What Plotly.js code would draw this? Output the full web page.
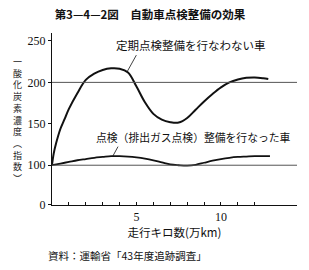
<!DOCTYPE html>
<html>
<head>
<meta charset="utf-8">
<script src="https://cdn.plot.ly/plotly-3.0.1.min.js"></script>
<style>html,body{margin:0;padding:0;background:#fff;}#chart{width:309px;height:270px;}</style>
</head>
<body>
<div id="chart"></div>
<script>
// 走行キロ数 (万km)
const xNoService = [0, 0.1, 0.25, 0.5, 0.75, 1.0, 1.5, 2.0, 2.5, 3.0, 3.5, 4.0, 4.5, 5.0, 5.5, 6.0, 6.5, 7.0, 7.5, 8.0, 8.5, 9.0, 9.5, 10.0, 10.5, 11.0, 11.5, 12.0, 12.5, 12.8];
// 定期点検整備を行なわない車 (一酸化炭素濃度指数)
const yNoService = [100, 114, 127, 144, 156, 168, 187, 203, 210.5, 215, 217, 216.5, 212, 195, 176, 162, 155, 152, 151.5, 157, 167, 177, 186, 194, 200, 203.5, 205.5, 206, 205, 204];
const xService = [0, 0.5, 1, 1.5, 2, 2.5, 3, 3.5, 4, 4.5, 5, 5.5, 6, 6.5, 7, 7.5, 8, 8.5, 9, 9.5, 10, 10.5, 11, 11.5, 12, 12.9];
// 点検(排出ガス点検)整備を行なった車
const yService = [100, 102, 104, 106, 107.5, 109, 110, 111, 111, 110.5, 109.5, 108, 106, 103.5, 101, 100, 99.5, 100.5, 103, 105.5, 107.5, 109, 110, 110.5, 111, 111];

const refLines = [100, 200];
const xTickVals = [1,2,3,4,5,6,7,8,9,10,11,12];
const xTickText = ['','','','','5','','','','','10','',''];
// broken y-axis: "0" is drawn just below 100
const yTickVals = [52.4, 100, 150, 200, 250];
const yTickText = ['0', '100', '150', '200', '250'];
const yTitleChars = ['一','酸','化','炭','素','濃','度','︵','指','数','︶'];

const serif = 'Liberation Serif, DejaVu Serif, serif';
const jp = 'Noto Sans CJK JP, sans-serif';

const traces = [
  {x: xNoService, y: yNoService, type: 'scatter', mode: 'lines',
   line: {color: '#111', width: 2, shape: 'spline', smoothing: 1}, hoverinfo: 'skip'},
  {x: xService, y: yService, type: 'scatter', mode: 'lines',
   line: {color: '#111', width: 1.8, shape: 'spline', smoothing: 1}, hoverinfo: 'skip'}
];

const shapes = refLines.map(v => ({
  type: 'line', xref: 'paper', yref: 'y', x0: 0, x1: 1, y0: v, y1: v,
  line: {color: '#555', width: 1}
}));

const annotations = [
  {x: 8.25, y: 245, xref: 'x', yref: 'y', text: '定期点検整備を行なわない車', showarrow: false,
   font: {family: jp, size: 11.5, color: '#111'}},
  {x: 4.45, y: 213, xref: 'x', yref: 'y', text: '', showarrow: true, arrowhead: 0,
   arrowwidth: 0.8, arrowcolor: '#111', ax: 10, ay: -18},
  {x: 8.4, y: 134.3, xref: 'x', yref: 'y', text: '点検（排出ガス点検）整備を行なった車', showarrow: false,
   font: {family: jp, size: 10.8, color: '#111'}},
  {x: 3.6, y: 111, xref: 'x', yref: 'y', text: '', showarrow: true, arrowhead: 0,
   arrowwidth: 0.8, arrowcolor: '#111', ax: 6, ay: -11},
  {x: (46 - 52) / 245, y: (205 - 255) / 172, xref: 'paper', yref: 'paper', xanchor: 'left', yanchor: 'middle',
   text: '資料：運輸省「43年度追跡調査」', showarrow: false, font: {family: jp, size: 10.5, color: '#111'}},
  {x: (17 - 52) / 245, y: (205 - 120) / 172, xref: 'paper', yref: 'paper', xanchor: 'center', yanchor: 'middle',
   text: yTitleChars.join('<br>'), showarrow: false, font: {family: jp, size: 9, color: '#222'}}
];

const layout = {
  width: 309, height: 270,
  margin: {l: 52, r: 12, t: 33, b: 65},
  paper_bgcolor: '#fff', plot_bgcolor: '#fff',
  showlegend: false,
  title: {text: '第3—4—2図　自動車点検整備の効果', font: {family: jp, size: 11.5, color: '#111', weight: 'bold'},
    xref: 'container', yref: 'container', x: 150 / 309, y: 1 - 15 / 270, xanchor: 'center', yanchor: 'middle'},
  xaxis: {range: [0, 14.5], tickvals: xTickVals, ticktext: xTickText, ticks: 'inside', ticklen: 3,
    tickcolor: '#111', showgrid: false, zeroline: false, showline: true, linecolor: '#111', linewidth: 1.2,
    tickfont: {family: serif, size: 12, color: '#111'},
    title: {text: '走行キロ数(万km)', font: {family: jp, size: 11.5, color: '#111'}, standoff: 4}},
  yaxis: {range: [52, 259.6], tickvals: yTickVals, ticktext: yTickText, ticks: 'outside', ticklen: 3,
    tickcolor: '#111', showgrid: false, zeroline: false, showline: true, linecolor: '#111', linewidth: 1.2,
    tickfont: {family: serif, size: 12, color: '#111'}},
  shapes: shapes,
  annotations: annotations
};

Plotly.newPlot('chart', traces, layout, {staticPlot: true, displayModeBar: false});
</script>
</body>
</html>
